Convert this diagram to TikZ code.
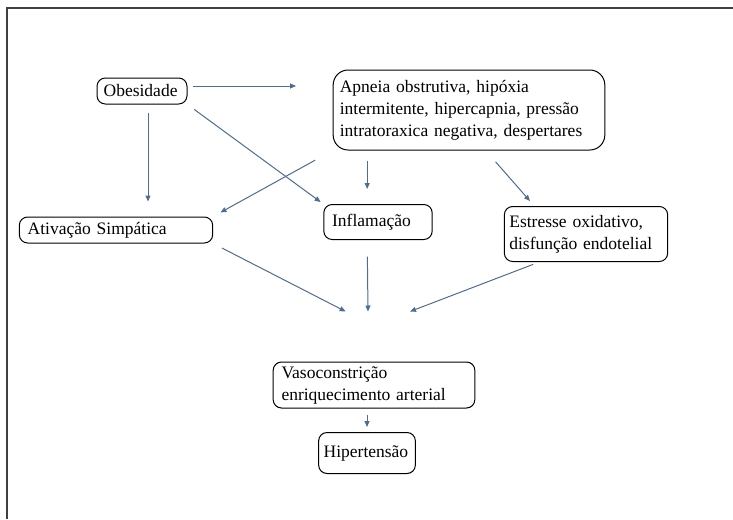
\documentclass[tikz,border=0pt]{standalone}
\usepackage{fontspec}
\setmainfont{Liberation Serif}
\usetikzlibrary{arrows.meta,positioning}
\hyphenpenalty=10000
\definecolor{aBlue}{RGB}{78,108,148}
\definecolor{fGray}{gray}{0.25}
\tikzset{
    box/.style={draw, rounded corners=5pt, line width=0.6pt, align=left,
        font=\fontsize{10.5}{13.2}\selectfont, inner xsep=4pt, inner ysep=2pt},
    arr/.style={-{Triangle[length=3.6pt,width=3pt]}, line width=0.6pt, aBlue},
    frame/.style={line width=1.2pt, fGray}
}
\begin{document}
\begin{tikzpicture}[x=0.6pt,y=-0.6pt]
\useasboundingbox (0,0) rectangle (733,519);
\draw[frame] (7,519) -- (7,8) -- (733,8);
% boxes
\node[box,text width=46pt,minimum height=15.6pt] (obes) at (142,91) {Obesidade};
\node[box,rounded corners=9pt,text width=155pt,minimum height=48pt] (apn) at (469,110)
    {Apneia obstrutiva, hipóxia\\intermitente, hipercapnia, pressão\\intratoraxica negativa, despertares};
\node[box,text width=106pt,minimum height=15.6pt,inner xsep=5pt] (ativ) at (116,230) {Ativação Simpática};
\node[box,text width=55pt,minimum height=21pt,inner xsep=5pt] (infl) at (378,222) {Inflamação};
\node[box,text width=92pt,minimum height=33pt,inner xsep=3pt] (estr) at (586,234) {Estresse oxidativo,\\disfunção endotelial};
\node[box,text width=111pt,minimum height=27.6pt,inner xsep=5pt,inner ysep=0pt] (vaso) at (374,385) {Vasoconstrição\\enriquecimento arterial};
\node[box,text width=52pt,minimum height=24.6pt,inner xsep=3pt] (hip) at (367,453) {Hipertensão};
% arrows
\draw[arr,shorten <=3pt,shorten >=22pt] ([yshift=3pt]obes.east) -- ([yshift=3pt]obes.east -| apn.west);
\draw[arr,shorten <=5pt,shorten >=9pt] ([xshift=3.6pt]obes.south) -- ([xshift=3.6pt]obes.south |- ativ.north);
\draw[arr,shorten <=5pt,shorten >=2pt] (obes.south east) -- (infl.north west);
\draw[arr,shorten <=12pt,shorten >=5pt] (apn.south west) -- (ativ.north east);
\draw[arr,shorten <=6pt,shorten >=9pt] ([xshift=-6.5pt]infl.north |- apn.south) -- ([xshift=-6.5pt]infl.north);
\draw[arr,shorten <=9pt,shorten >=4pt] ([xshift=10pt]apn.south) -- ([xshift=-31pt]estr.north);
\draw[arr,shorten <=6pt] (ativ.south east) -- ([xshift=-17pt,yshift=30pt]vaso.north);
\draw[arr,shorten <=10pt] ([xshift=-6.5pt]infl.south) -- ([xshift=-3.6pt,yshift=30pt]vaso.north);
\draw[arr,shorten <=4pt] ([xshift=-28pt]estr.south) -- ([xshift=21.6pt,yshift=30pt]vaso.north);
\draw[arr,shorten <=4pt,shorten >=3pt] (vaso.south -| hip) -- (hip.north);
\end{tikzpicture}
\end{document}
